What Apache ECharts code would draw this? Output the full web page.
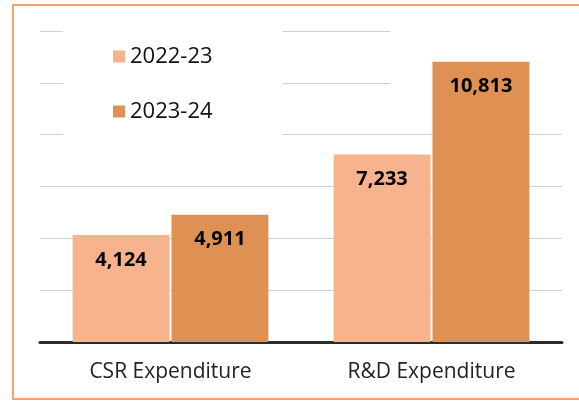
<!DOCTYPE html>
<html>
<head>
<meta charset="utf-8">
<script src="https://cdn.jsdelivr.net/npm/echarts@6/dist/echarts.min.js"></script>
<style>
  html, body { margin: 0; padding: 0; background: #fff; }
  #chart { width: 579px; height: 401px; }
</style>
</head>
<body>
<div id="chart"></div>
<script>
const categories = ['CSR Expenditure', 'R&D Expenditure']
const seriesNames = ['2022-23', '2023-24']
const values2022 = [4124, 7233]
const values2023 = [4911, 10813]

const colors = ['#F7B28E', '#DE9152']
const fontFamily = '"Open Sans", "Noto Sans", sans-serif'

const chart = echarts.init(document.getElementById('chart'))

const barLabel = {
  show: true,
  position: 'insideTop',
  distance: 15,
  color: '#000',
  fontFamily,
  fontWeight: 'bold',
  fontSize: 20,
  formatter: (p) => p.value.toLocaleString('en-US')
}

chart.setOption({
  animation: false,
  backgroundColor: '#fff',
  grid: { left: 40, right: 17, top: 31, bottom: 59 },
  graphic: [
    {
      type: 'rect',
      z: 100,
      shape: { x: 13, y: 5, width: 600, height: 394 },
      style: { fill: 'none', stroke: '#F3A46C', lineWidth: 2 }
    },
    {
      // blank patch where the gridlines fade out behind the top label
      type: 'rect',
      z: 1,
      shape: { x: 390, y: 20, width: 180, height: 75 },
      style: { fill: '#fff' }
    }
  ],
  legend: {
    orient: 'vertical',
    left: 63,
    top: 22,
    padding: [22, 70, 22, 50],
    backgroundColor: '#fff',
    itemWidth: 12,
    itemHeight: 12,
    itemGap: 30,
    icon: 'rect',
    textStyle: { fontFamily, fontSize: 22, color: '#111', lineHeight: 25 },
    data: seriesNames
  },
  xAxis: {
    type: 'category',
    data: categories,
    axisLine: { lineStyle: { color: '#2b2b2b', width: 3 } },
    axisTick: { show: false },
    axisLabel: { margin: 20, fontFamily, fontSize: 21, color: '#222' }
  },
  yAxis: {
    type: 'value',
    min: 0,
    max: 12000,
    interval: 2000,
    axisLabel: { show: false },
    axisLine: { show: false },
    axisTick: { show: false },
    splitLine: { lineStyle: { color: '#d0d0d0', width: 1 } }
  },
  series: [
    {
      name: seriesNames[0],
      type: 'bar',
      data: values2022,
      barCategoryGap: '25%',
      barGap: '2%',
      itemStyle: { color: colors[0] },
      label: barLabel
    },
    {
      name: seriesNames[1],
      type: 'bar',
      data: values2023,
      barCategoryGap: '25%',
      barGap: '2%',
      itemStyle: { color: colors[1] },
      label: barLabel
    }
  ]
})
</script>
</body>
</html>
